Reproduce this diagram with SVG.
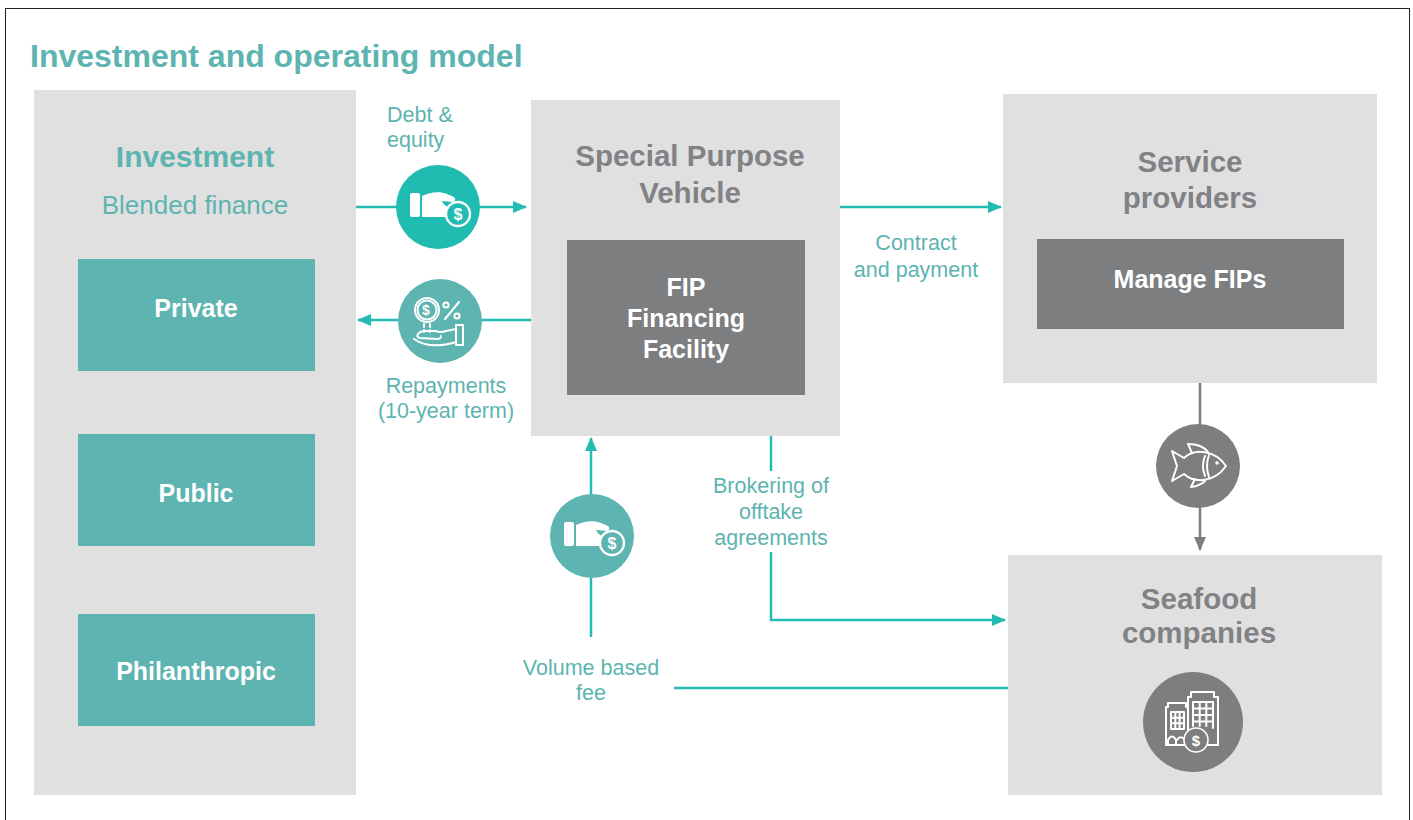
<svg xmlns="http://www.w3.org/2000/svg" xmlns:xlink="http://www.w3.org/1999/xlink" width="1413" height="820" viewBox="0 0 1413 820">
<style>
.box{fill:#e0e0e0}
.teal{fill:#5db4b0}
.dark{fill:#7c7e80}
.t{font-family:"Liberation Sans",Arial,sans-serif}
.h{font-weight:bold;font-size:29.5px;fill:#808285;text-anchor:middle}
.w{font-weight:bold;font-size:25px;fill:#ffffff;text-anchor:middle}
.lbl{font-size:21.5px;fill:#5db4b0}
.mid{text-anchor:middle}
.con{fill:none;stroke:#22bcb2;stroke-width:2.5}
.gcon{fill:none;stroke:#7c7e80;stroke-width:2.5}
.ic{fill:none;stroke:#ffffff;stroke-width:2;stroke-linejoin:round;stroke-linecap:round}
</style>
<defs>
<marker id="ah" viewBox="0 0 14 12" markerWidth="14" markerHeight="12" refX="13" refY="6" orient="auto" markerUnits="userSpaceOnUse">
<path d="M0,0 L14,6 L0,12 Z" fill="#22bcb2"/>
</marker>
<marker id="ahg" viewBox="0 0 14 12" markerWidth="14" markerHeight="12" refX="13" refY="6" orient="auto" markerUnits="userSpaceOnUse">
<path d="M0,0 L14,6 L0,12 Z" fill="#7c7e80"/>
</marker>
<g id="handcoin">
<rect x="-28" y="-14" width="10" height="24" rx="2" fill="#ffffff"/>
<path d="M-16,-11 C-8,-15 2,-16 9,-13 L16,-10 Q19,-7 15,-5 L4,-6 Q6,-1 11,0 L11,10 L-16,10 Z" fill="#ffffff"/>
<circle cx="20" cy="7" r="12" fill="currentColor" stroke="#ffffff" stroke-width="2.4"/>
<text x="20" y="12.5" class="t" font-size="16" font-weight="bold" fill="#ffffff" text-anchor="middle">$</text>
</g>
</defs>
<rect x="5.5" y="8.5" width="1404" height="830" fill="#ffffff" stroke="#222222" stroke-width="1"/>
<text x="30" y="67" class="t" font-size="32" font-weight="bold" fill="#5db4b0">Investment and operating model</text>

<g id="connectors">
<path class="con" d="M356,207 H526" marker-end="url(#ah)"/>
<path class="con" d="M531,320 H358" marker-end="url(#ah)"/>
<path class="con" d="M840,207 H1001" marker-end="url(#ah)"/>
<path class="gcon" d="M1200,383 V550" marker-end="url(#ahg)"/>
<path class="con" d="M591,637 V438" marker-end="url(#ah)"/>
<path class="con" d="M674,688 H1008"/>
<path class="con" d="M771,436 V471"/>
<path class="con" d="M771,552 V620 H1005" marker-end="url(#ah)"/>
</g>

<g id="investment">
<rect class="box" x="34" y="90" width="322" height="705"/>
<text x="195" y="167" class="t" font-size="30" font-weight="bold" fill="#5db4b0" text-anchor="middle">Investment</text>
<text x="195" y="214" class="t" font-size="26" fill="#5db4b0" text-anchor="middle">Blended finance</text>
</g>
<g id="private">
<rect class="teal" x="78" y="259" width="237" height="112"/>
<text x="196" y="317" class="t w">Private</text>
</g>
<g id="public">
<rect class="teal" x="78" y="434" width="237" height="112"/>
<text x="196" y="502" class="t w">Public</text>
</g>
<g id="philanthropic">
<rect class="teal" x="78" y="614" width="237" height="112"/>
<text x="196" y="680" class="t w">Philanthropic</text>
</g>

<g id="spv">
<rect class="box" x="531" y="100" width="309" height="336"/>
<text x="690" y="166" class="t h">Special Purpose</text>
<text x="690" y="203" class="t h">Vehicle</text>
</g>
<g id="fip">
<rect class="dark" x="567" y="240" width="238" height="155"/>
<text x="686" y="296" class="t w">FIP</text>
<text x="686" y="327" class="t w">Financing</text>
<text x="686" y="358" class="t w">Facility</text>
</g>

<g id="service">
<rect class="box" x="1003" y="94" width="374" height="289"/>
<text x="1190" y="172" class="t h">Service</text>
<text x="1190" y="208" class="t h">providers</text>
</g>
<g id="manage">
<rect class="dark" x="1037" y="239" width="307" height="90"/>
<text x="1190" y="288" class="t w" font-size="25.5">Manage FIPs</text>
</g>

<g id="seafood">
<rect class="box" x="1008" y="555" width="374" height="240"/>
<text x="1199" y="609" class="t h">Seafood</text>
<text x="1199" y="643" class="t h">companies</text>
<circle cx="1193" cy="722" r="50" fill="#7c7e80"/>
<g class="ic" stroke-width="1.6">
<path d="M1166,745 V707 H1168 V703 H1186 V707 H1188"/>
<path d="M1188,745 V697 H1191 V692 H1214 V697 H1218 V745"/>
<path d="M1171,712 H1184 V729 H1171 Z M1175.3,712 V729 M1179.6,712 V729 M1171,717.7 H1184 M1171,723.3 H1184"/>
<path d="M1193,702 H1213 V728 M1193,702 V726 M1199.7,702 V726 M1206.3,702 V726 M1193,708.5 H1213 M1193,715 H1213 M1193,721.5 H1213"/>
<path d="M1168,745 V740 Q1172,733 1176,740 V745 M1177,740 Q1180,735 1184,739"/>
<path d="M1166,745 H1184 M1208,745 H1218"/>
</g>
<circle cx="1196" cy="740" r="12" fill="#7c7e80" stroke="#ffffff" stroke-width="1.6"/>
<text x="1196" y="745.5" class="t" font-size="15" font-weight="bold" fill="#ffffff" text-anchor="middle">$</text>
</g>

<g id="debt-equity">
<text x="387" y="122" class="t lbl">Debt &amp;</text>
<text x="387" y="147" class="t lbl">equity</text>
<circle cx="438" cy="207" r="42" fill="#20bcb1"/>
<use xlink:href="#handcoin" href="#handcoin" transform="translate(438,207)" style="color:#20bcb1"/>
</g>

<g id="repayments">
<circle cx="440" cy="321" r="42" fill="#5db4b0"/>
<g class="ic" stroke-width="1.6">
<circle cx="427" cy="310" r="12"/>
<circle cx="427" cy="310" r="9.5"/>
<path d="M445,319 L459,302"/>
<circle cx="446" cy="305" r="2.6"/>
<circle cx="457" cy="316" r="2.6"/>
<path d="M424,324 V327 M424,330 V332 M430,324 V327 M430,330 V332"/>
<rect x="456" y="325" width="7" height="20"/>
<path d="M456,329 L446,331 Q440,333 436,331 L425,331 Q420,331 418,334 Q416,337 420,338 L437,339 Q441,339 441,336"/>
<path d="M414,339 Q430,350 456,342"/>
</g>
<text x="426" y="315" class="t" font-size="14" font-weight="bold" fill="#ffffff" text-anchor="middle">$</text>
<text x="446" y="393" class="t lbl mid">Repayments</text>
<text x="446" y="418" class="t lbl mid">(10-year term)</text>
</g>

<g id="contract">
<text x="916" y="250" class="t lbl mid">Contract</text>
<text x="916" y="277" class="t lbl mid">and payment</text>
</g>

<g id="fish">
<circle cx="1198" cy="466" r="42" fill="#7c7e80"/>
<g class="ic">
<path d="M1184,458 C1195,448 1215,450 1226,466 C1215,482 1195,484 1184,474 L1172,481 L1177,466 L1172,451 Z"/>
<path d="M1192,453 L1188,444 C1198,444 1205,448 1208,452"/>
<path d="M1195,479 L1191,487 C1199,486 1203,483 1205,481"/>
<path d="M1205,456 Q1201,466 1205,476"/>
<path d="M1209,455 Q1205,466 1209,477"/>
</g>
<circle cx="1217" cy="463" r="1.8" fill="#ffffff"/>
</g>

<g id="volume-fee">
<circle cx="592" cy="536" r="42" fill="#5db4b0"/>
<use xlink:href="#handcoin" href="#handcoin" transform="translate(592,536)" style="color:#5db4b0"/>
<text x="591" y="675" class="t lbl mid">Volume based</text>
<text x="591" y="700" class="t lbl mid">fee</text>
</g>

<g id="brokering">
<text x="771" y="493" class="t lbl mid">Brokering of</text>
<text x="771" y="519" class="t lbl mid">offtake</text>
<text x="771" y="545" class="t lbl mid">agreements</text>
</g>
</svg>
